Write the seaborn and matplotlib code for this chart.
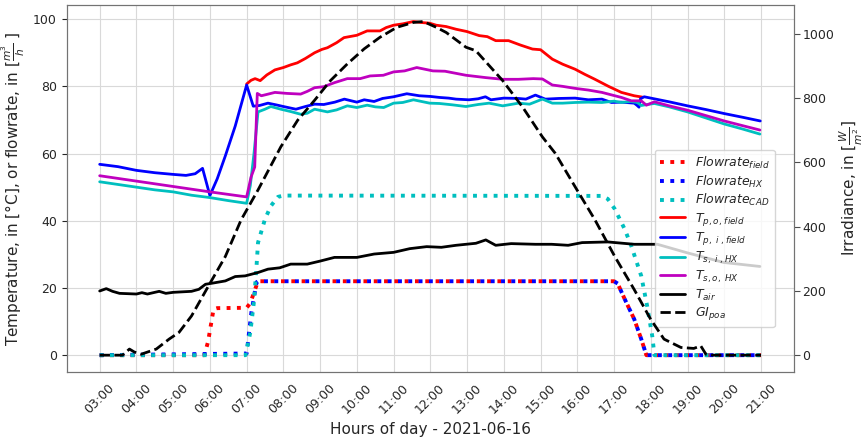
import matplotlib
matplotlib.use("Agg")
import matplotlib.pyplot as plt
import seaborn as sns

# --- data (hours of day, values) ---

# flowrates, m3/h
flow_field_t = [3.0, 5.85, 5.95, 6.1, 6.2, 7.0, 7.1, 7.23, 7.31, 17.0, 17.1, 17.29, 17.55, 17.74, 17.88, 21.0]
flow_field_v = [0, 0, 4.0, 13.7, 14.0, 14.1, 15.5, 19.6, 22.0, 22.0, 21.3, 16.7, 10.7, 4.8, 0, 0]

flow_hx_t = [3.0, 7.0, 7.13, 7.27, 7.31, 17.0, 17.1, 17.29, 17.55, 17.74, 17.88, 21.0]
flow_hx_v = [0, 0.5, 12.8, 21.7, 22.0, 22.0, 21.3, 16.7, 10.7, 4.8, 0, 0]

flow_cad_t = [3.0, 6.97, 7.1, 7.2, 7.27, 7.31, 7.5, 7.66, 7.85, 8.0, 16.67, 16.83, 17.02,
              17.29, 17.47, 17.74, 17.9, 18.04, 18.1, 21.0]
flow_cad_v = [0, 0, 6.8, 16.0, 26.6, 33.5, 40.5, 44.4, 47.1, 47.5, 47.4, 46.5, 43.5,
              37.5, 32.5, 23.6, 14.7, 5.7, 0, 0]

# temperatures, degC
tpo_t = [7.0, 7.12, 7.23, 7.37, 7.55, 7.77, 8.0, 8.2, 8.38, 8.6, 8.85, 9.05, 9.2, 9.45, 9.65,
         10.0, 10.28, 10.63, 10.8, 11.0, 11.25, 11.54, 11.75, 11.98, 12.16, 12.43, 12.7, 13.0,
         13.33, 13.55, 13.78, 14.13, 14.45, 14.78, 15.0, 15.32, 15.6, 15.94, 16.2, 16.48, 16.85,
         17.2, 17.55, 17.77]
tpo_v = [80.7, 81.8, 82.3, 81.7, 83.4, 84.9, 85.6, 86.4, 87.0, 88.3, 90.0, 91.0, 91.5, 93.0, 94.5,
         95.2, 96.5, 96.5, 97.5, 98.2, 98.6, 99.3, 99.0, 98.8, 98.2, 97.8, 97.0, 96.3,
         95.1, 94.8, 93.6, 93.6, 92.3, 91.1, 90.9, 88.1, 86.6, 85.1, 83.6, 82.1, 80.0,
         78.2, 77.2, 76.8]

tpi_t = [3.0, 3.5, 4.0, 4.5, 5.0, 5.35, 5.6, 5.8, 6.0, 6.2, 6.42, 6.69, 6.85, 7.0, 7.18, 7.35,
         7.58, 7.8, 8.0, 8.34, 8.6, 8.85, 9.1, 9.4, 9.66, 10.0, 10.2, 10.47, 10.7, 11.0, 11.36,
         11.7, 12.0, 12.25, 12.5, 12.7, 13.05, 13.3, 13.5, 13.65, 14.0, 14.4, 14.6, 14.86, 15.13,
         15.5, 15.94, 16.3, 16.67, 16.93, 17.2, 17.55, 17.62, 17.68, 17.72, 17.82, 18.5, 19.0,
         19.5, 20.0, 20.5, 20.98]
tpi_v = [56.8, 56.1, 55.0, 54.3, 53.8, 53.5, 54.0, 55.6, 47.5, 52.5, 59.3, 68.2, 74.5, 80.4, 74.1, 74.3,
         75.0, 74.5, 74.0, 73.2, 74.0, 74.7, 74.6, 75.3, 76.2, 75.3, 76.0, 75.5, 76.4, 76.9, 77.8,
         77.2, 77.0, 76.7, 76.5, 76.2, 76.0, 76.3, 76.9, 76.0, 76.5, 76.4, 76.2, 77.4, 76.2,
         76.4, 76.5, 76.0, 76.2, 75.2, 75.3, 75.0, 74.4, 73.8, 76.3, 76.9, 75.4, 74.2,
         73.1, 71.9, 70.8, 69.7]

tsi_t = [3.0, 3.5, 4.0, 4.5, 5.0, 5.5, 6.0, 6.5, 7.0, 7.1, 7.2, 7.31, 7.5, 7.66, 7.93, 8.2, 8.47,
         8.65, 8.85, 9.2, 9.45, 9.74, 10.0, 10.28, 10.5, 10.73, 11.0, 11.25, 11.54, 11.98, 12.25,
         12.6, 12.97, 13.3, 13.6, 13.97, 14.4, 14.7, 15.05, 15.32, 15.6, 15.94, 16.3, 16.67, 17.0,
         17.2, 17.45, 17.64, 17.74, 17.9, 18.1, 18.5, 19.0, 19.5, 20.0, 20.5, 20.97]
tsi_v = [51.6, 50.8, 50.0, 49.2, 48.6, 47.6, 46.9, 46.0, 45.2, 50.5, 60.0, 72.4, 73.2, 74.0, 73.2, 72.5, 71.7,
         72.0, 73.2, 72.4, 73.0, 74.2, 73.7, 74.4, 73.9, 73.7, 75.0, 75.2, 76.0, 75.0, 74.9,
         74.5, 74.0, 74.6, 75.0, 74.2, 75.0, 74.7, 76.2, 75.0, 75.0, 75.2, 75.3, 75.2, 75.6,
         75.2, 75.5, 75.2, 74.3, 74.6, 74.9, 73.9, 72.4, 70.6, 68.8, 67.3, 65.8]

tso_t = [3.0, 4.0, 5.0, 6.0, 7.0, 7.12, 7.22, 7.29, 7.4, 7.55, 7.77, 8.1, 8.47, 8.65, 8.85, 9.1,
         9.39, 9.74, 10.09, 10.36, 10.72, 11.0, 11.3, 11.63, 12.07, 12.4, 12.97, 13.2, 13.51,
         13.97, 14.4, 14.8, 15.05, 15.32, 15.6, 15.94, 16.3, 16.67, 17.2, 17.47, 17.74, 17.88,
         18.1, 18.5, 19.0, 19.5, 20.0, 20.5, 20.97]
tso_v = [53.4, 51.8, 50.2, 48.6, 47.1, 53.0, 56.0, 77.9, 77.2, 77.6, 78.2, 77.9, 77.7, 78.5, 79.6, 79.9,
         81.1, 82.3, 82.3, 83.1, 83.3, 84.3, 84.6, 85.6, 84.6, 84.5, 83.3, 83.0, 82.6,
         82.1, 82.1, 82.3, 82.2, 80.4, 80.0, 79.4, 78.9, 78.2, 76.7, 75.7, 75.7, 74.4,
         75.4, 74.2, 72.9, 71.3, 69.7, 68.3, 67.0]

tair_t = [3.0, 3.18, 3.35, 3.54, 4.0, 4.15, 4.3, 4.62, 4.8, 5.0, 5.5, 5.7, 5.88, 6.05, 6.42, 6.69,
          6.96, 7.31, 7.58, 7.9, 8.2, 8.65, 9.0, 9.39, 10.0, 10.47, 11.0, 11.44, 11.9, 12.3, 12.7,
          13.24, 13.51, 13.78, 14.2, 14.86, 15.3, 15.75, 16.13, 16.83, 17.55, 18.18, 18.98,
          19.98, 20.97]
tair_v = [19.1, 19.8, 19.0, 18.4, 18.2, 18.6, 18.2, 19.0, 18.4, 18.7, 19.0, 19.6, 21.1, 21.4, 22.1, 23.4,
          23.6, 24.6, 25.6, 26.0, 27.1, 27.1, 28.0, 29.1, 29.1, 30.1, 30.6, 31.7, 32.3, 32.1, 32.7,
          33.3, 34.3, 32.7, 33.2, 33.0, 33.0, 32.7, 33.5, 33.7, 33.0, 33.0, 30.5,
          27.6, 26.4]

# irradiance, W/m2
gi_t = [3.0, 3.62, 3.81, 3.94, 4.13, 4.54, 4.89, 5.16, 5.5, 5.96, 6.42, 6.85, 7.31, 7.5, 7.93,
        8.39, 8.85, 9.28, 9.74, 10.2, 10.63, 11.09, 11.54, 11.81, 12.16, 12.43, 12.97, 13.24,
        13.97, 14.51, 15.05, 15.4, 15.94, 16.48, 17.02, 17.55, 18.0, 18.36, 18.82, 19.17, 19.36,
        19.5, 19.7, 21.0]
gi_v = [0, 0, 19, 10, 3, 19, 50, 71, 122, 215, 307, 421, 514, 555, 648,
        731, 793, 854, 906, 953, 989, 1020, 1035, 1038, 1020, 1004, 958, 947,
        854, 772, 679, 628, 524, 421, 307, 204, 111, 50, 24, 21, 29,
        3, 0, 0]

hour_ticks = list(range(3, 22))
hour_labels = [f"{h:02d}:00" for h in hour_ticks]

# --- plotting ---
sns.set_style("whitegrid", {"axes.edgecolor": ".45", "grid.color": ".85"})

fig, ax = plt.subplots(figsize=(8.65, 4.38), dpi=100)
ax2 = ax.twinx()

left_series = [
    (flow_field_t, flow_field_v, "red", ":", 2.8, r"$Flowrate_{field}$"),
    (flow_hx_t, flow_hx_v, "blue", ":", 2.8, r"$Flowrate_{HX}$"),
    (flow_cad_t, flow_cad_v, "c", ":", 2.8, r"$Flowrate_{CAD}$"),
    (tpo_t, tpo_v, "red", "-", 2, r"$T_{p,o,\,field}$"),
    (tpi_t, tpi_v, "blue", "-", 2, r"$T_{p,\ i\ ,field}$"),
    (tsi_t, tsi_v, "c", "-", 2, r"$T_{s,\ i\ ,HX}$"),
    (tso_t, tso_v, "m", "-", 2, r"$T_{s,o,\ HX}$"),
    (tair_t, tair_v, "black", "-", 2, r"$T_{air}$"),
]
for t, v, col, ls, lw, lab in left_series:
    sns.lineplot(x=t, y=v, ax=ax, color=col, linestyle=ls, linewidth=lw, label=lab, legend=False)

sns.lineplot(x=gi_t, y=gi_v, ax=ax2, color="black", linestyle="--", linewidth=2,
             label=r"$GI_{poa}$", legend=False)

ax.set_xticks(hour_ticks)
ax.set_xticklabels(hour_labels, rotation=45, fontsize=9)
ax.set_yticks([0, 20, 40, 60, 80, 100])
ax.tick_params(axis="y", labelsize=9)
ax.set_xlabel("Hours of day - 2021-06-16", fontsize=11)
ax.set_ylabel(r"Temperature, in [°C], or flowrate, in [$\frac{m^3}{h}$ ]", fontsize=11)

ax2.grid(False)
ax2.set_yticks([0, 200, 400, 600, 800, 1000])
ax2.tick_params(axis="y", right=True, length=4, labelsize=9, color=".3", pad=2)
ax2.set_ylabel(r"Irradiance, in [$\frac{W}{m^2}$]", fontsize=11, labelpad=2)

h1, l1 = ax.get_legend_handles_labels()
h2, l2 = ax2.get_legend_handles_labels()
ax.legend(h1 + h2, l1 + l2, loc="lower right", bbox_to_anchor=(0.982, 0.105), fontsize=9,
          labelspacing=0.2, borderpad=0.4)

fig.subplots_adjust(left=0.077, right=0.918, top=0.989, bottom=0.151)
plt.savefig("out.png", dpi=100)
